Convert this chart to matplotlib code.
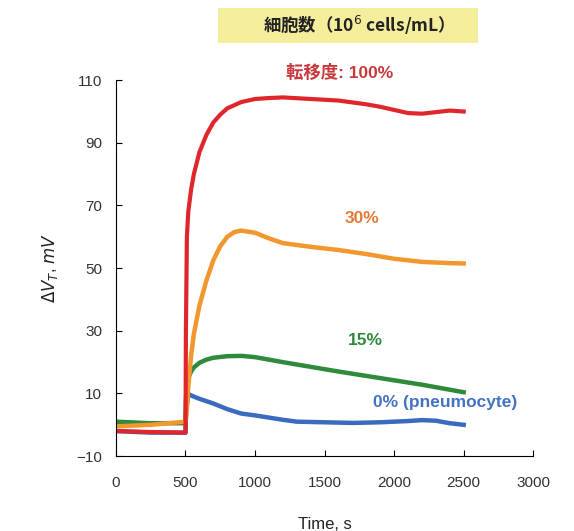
import numpy as np
import matplotlib.pyplot as plt
from matplotlib.patches import Rectangle

plt.rcParams['font.family'] = ['Liberation Sans', 'Noto Sans CJK JP', 'DejaVu Sans']

# keypoints (time in s, dV_T in mV)
t_red = [0, 250, 500, 503, 510, 520, 540, 560, 600, 650, 700, 750, 800, 900, 1000, 1100,
         1200, 1400, 1600, 1800, 1900, 2000, 2100, 2200, 2300, 2400, 2500]
v_red = [-2, -2.3, -2.5, 30, 60, 68, 75, 80, 87, 92.5, 96.5, 99, 101, 103, 104, 104.3,
         104.5, 104, 103.5, 102.3, 101.5, 100.5, 99.5, 99.3, 99.8, 100.3, 100]

t_orange = [0, 250, 500, 510, 520, 540, 560, 600, 650, 700, 750, 800, 850, 900, 1000,
            1100, 1200, 1400, 1600, 1800, 2000, 2200, 2400, 2500]
v_orange = [-0.5, 0, 1, 5, 12, 22, 29, 38, 46, 52.5, 57, 60, 61.5, 62, 61.3,
            59.5, 58, 56.8, 55.8, 54.5, 53, 52, 51.6, 51.5]

t_green = [0, 250, 500, 503, 510, 520, 540, 560, 600, 650, 700, 800, 900, 1000, 1100,
           1200, 1400, 1600, 1800, 2000, 2200, 2400, 2500]
v_green = [1, 0.5, 0.5, 8, 12, 15, 17, 18.3, 19.8, 20.8, 21.4, 21.9, 22, 21.6, 20.8,
           20, 18.5, 17, 15.6, 14.2, 12.8, 11.2, 10.4]

t_blue = [0, 250, 500, 505, 520, 560, 600, 700, 800, 900, 1000, 1100, 1200, 1300, 1500,
          1700, 1900, 2100, 2200, 2300, 2400, 2500]
v_blue = [-2, -2.5, -2.5, 5, 9.8, 9, 8.3, 6.8, 5, 3.6, 3, 2.3, 1.6, 1, 0.8,
          0.6, 0.8, 1.2, 1.5, 1.3, 0.5, 0]

labels = ['転移度: 100%', '30%', '15%', '0% (pneumocyte)']
label_t = [1610, 1770, 1790, 2370]
label_v = [112.5, 66, 27, 7.2]
line_colors = ['#E0262B', '#F2962E', '#2F8A3B', '#3A6BBE']
text_colors = ['#C8373A', '#E57A37', '#2F8A3B', '#4472C4']

fig = plt.figure(figsize=(5.74, 5.31), dpi=100)
ax = fig.add_axes([0.202, 0.141, 0.727, 0.708])

ax.plot(t_blue, v_blue, color=line_colors[3], lw=3.2, solid_joinstyle='round')
ax.plot(t_green, v_green, color=line_colors[2], lw=3.2, solid_joinstyle='round')
ax.plot(t_orange, v_orange, color=line_colors[1], lw=3.2, solid_joinstyle='round')
ax.plot(t_red, v_red, color=line_colors[0], lw=3.0, solid_joinstyle='round')

for txt, tx, ty, c in zip(labels, label_t, label_v, text_colors):
    ax.text(tx, ty, txt, color=c, fontsize=12.5, fontweight='bold',
            ha='center', va='center', clip_on=False)

ax.set_xlim(0, 3000)
ax.set_ylim(-10, 110)
ax.set_xticks(np.arange(0, 3001, 500))
ax.set_yticks(np.arange(-10, 111, 20))
ax.spines['top'].set_visible(False)
ax.spines['right'].set_visible(False)
ax.tick_params(direction='in', length=4, labelsize=11, labelcolor='#333333')
ax.tick_params(axis='x', pad=14)
ax.tick_params(axis='y', pad=10)

ax.set_xlabel('Time, s', fontsize=12, color='#222222', labelpad=20)
ax.set_ylabel(r'$\Delta V_T$, $mV$', fontsize=12, color='#222222', labelpad=12)

# yellow title box
fig.patches.append(Rectangle((218 / 574, 1 - 43 / 531), 260 / 574, 35 / 531,
                             transform=fig.transFigure, fc='#F4EE9C', ec='none'))
fig.text(0.617, 0.952, '細胞数（10$^6$ cells/mL）', ha='center', va='center',
         fontsize=12.5, fontweight='bold', color='#222222',
         family=['Noto Sans CJK JP', 'DejaVu Sans'])

plt.savefig('out.png', dpi=100)
